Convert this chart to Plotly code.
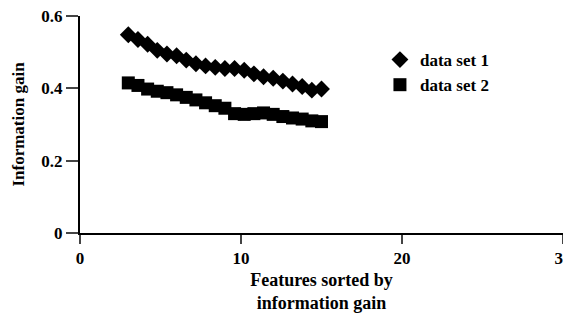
import plotly.graph_objects as go

# Feature index positions (as plotted) and information gain values
x = [3.0, 3.6, 4.2, 4.8, 5.4, 6.0, 6.6, 7.2, 7.8, 8.4, 9.0,
     9.6, 10.2, 10.8, 11.4, 12.0, 12.6, 13.2, 13.8, 14.4, 15.0]
set1 = [0.548, 0.535, 0.522, 0.505, 0.495, 0.490, 0.478, 0.468, 0.462, 0.458, 0.455,
        0.455, 0.450, 0.440, 0.432, 0.428, 0.420, 0.412, 0.405, 0.395, 0.398]
set2 = [0.415, 0.408, 0.398, 0.392, 0.388, 0.382, 0.375, 0.368, 0.360, 0.352, 0.345,
        0.330, 0.328, 0.330, 0.332, 0.328, 0.322, 0.318, 0.315, 0.310, 0.308]
xticks = [0, 10, 20, 30]
yticks = [0, 0.2, 0.4, 0.6]
ylabels = ["0", "0.2", "0.4", "0.6"]

FAM = "Liberation Serif"
fig = go.Figure()
fig.add_trace(go.Scatter(x=x, y=set1, mode="markers", name="<b>data set 1</b>",
                         marker=dict(symbol="diamond", size=13, color="black")))
fig.add_trace(go.Scatter(x=x, y=set2, mode="markers", name="<b>data set 2</b>",
                         marker=dict(symbol="square", size=13, color="black")))

# The page body has an 8px margin, so the figure is sized/positioned to compensate.
fig.update_layout(
    width=563, height=308,
    margin=dict(l=72, r=8, t=8, b=83),
    plot_bgcolor="white", paper_bgcolor="white",
    font=dict(family=FAM, size=17, color="black"),
    legend=dict(x=0.621, y=0.88, xanchor="left", yanchor="top",
                font=dict(family=FAM, size=17, color="black"),
                itemwidth=30, tracegroupgap=0, bgcolor="rgba(0,0,0,0)"),
    xaxis=dict(range=[0, 30], tickvals=xticks, ticktext=[f"<b>{v}</b>" for v in xticks],
               ticks="outside", ticklen=9, automargin=False, ticklabeloverflow="allow",
               tickwidth=2, showline=True, linewidth=2, linecolor="black",
               showgrid=False, zeroline=False,
               tickfont=dict(family=FAM, size=17, color="black"),
               title=dict(text="<b>Features sorted by<br>information gain</b>", standoff=6,
                          font=dict(family=FAM, size=18, color="black"))),
    yaxis=dict(range=[0, 0.6], tickvals=yticks, ticktext=[f"<b>{t}</b>" for t in ylabels],
               ticks="outside", ticklen=12, tickwidth=2, showline=True, linewidth=2,
               linecolor="black", showgrid=False, zeroline=False, automargin=False,
               ticklabeloverflow="allow",
               tickfont=dict(family=FAM, size=17, color="black"),
               title=dict(text="<b>Information gain</b>", standoff=12,
                          font=dict(family=FAM, size=17, color="black"))),
)
fig.write_html("out.html")
